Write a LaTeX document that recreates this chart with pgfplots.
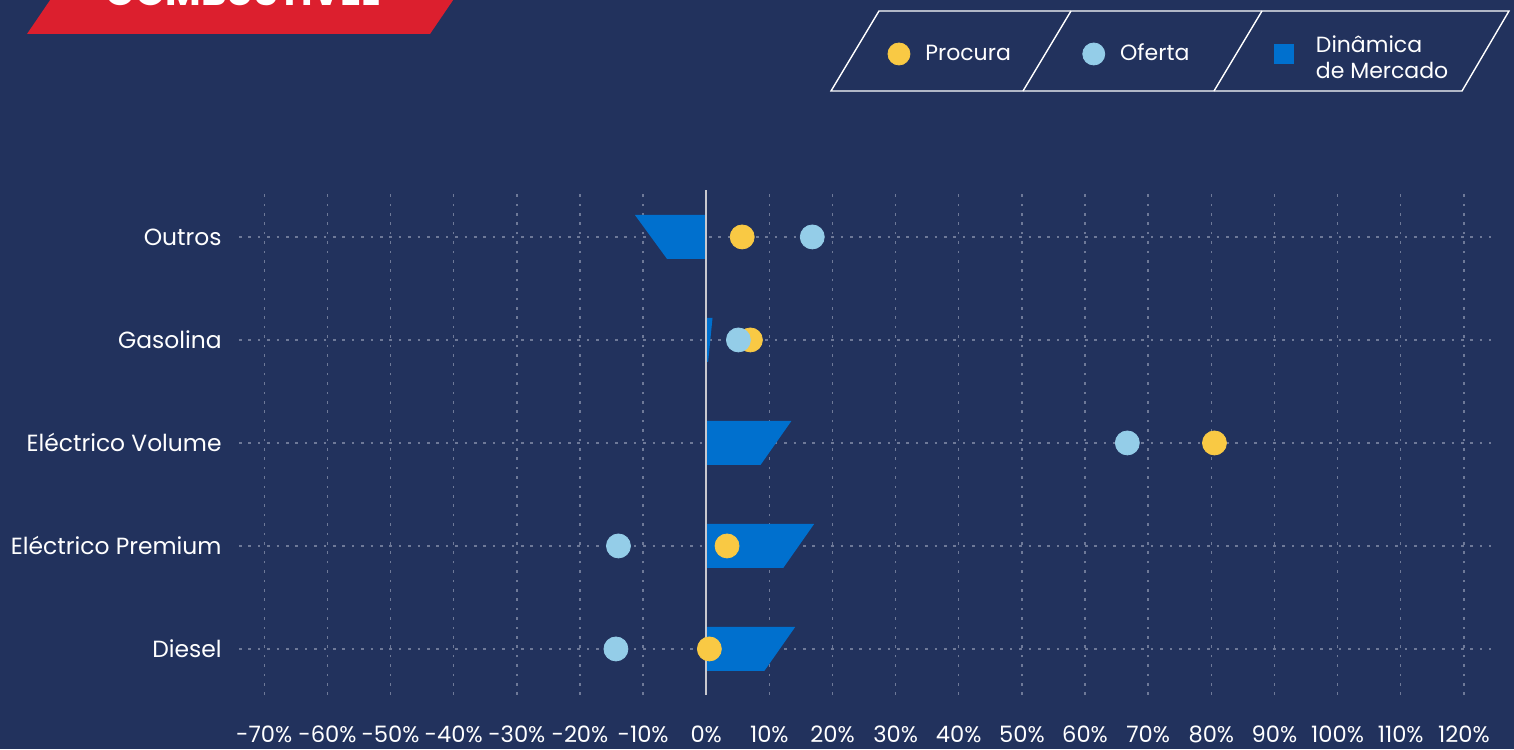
\documentclass[border=0pt]{standalone}
\usepackage{fontspec}
\setmainfont{Poppins}
\usepackage{pgfplots}
\pgfplotsset{compat=1.18}

\definecolor{bg}{RGB}{34,50,93}
\definecolor{barblue}{RGB}{0,112,206}
\definecolor{procura}{RGB}{249,201,68}
\definecolor{oferta}{RGB}{148,205,232}
\definecolor{gridc}{RGB}{110,121,152}
\definecolor{zeroc}{RGB}{200,200,206}
\definecolor{bannerred}{RGB}{220,31,46}

\begin{document}
\begin{tikzpicture}
% background
\fill[bg] (0,0) rectangle (757pt,374.5pt);

% title banner (cut at the top edge)
\fill[bannerred] (13.5pt,357.5pt) -- (215pt,357.5pt) -- (231pt,381pt) -- (29.5pt,381pt) -- cycle;
\node[anchor=base, text=white, font=\bfseries\fontsize{19.4}{22}\selectfont, inner sep=0pt]
  at (121.5pt,371.5pt) {COMBUSTÍVEL};

% legend frames
\draw[white, line width=0.7pt] (415.5pt,329pt) -- (439.5pt,369pt) -- (754.5pt,369pt) -- (731pt,329pt) -- cycle;
\draw[white, line width=0.7pt] (511.5pt,329pt) -- (535.5pt,369pt);
\draw[white, line width=0.7pt] (607pt,329pt) -- (631pt,369pt);

\begin{axis}[
  scale only axis,
  width=626pt, height=252.5pt,
  at={(119.5pt,27pt)}, anchor=south west,
  xmin=-74, xmax=124.3, ymin=-0.447, ymax=4.456,
  axis line style={draw=none},
  tick style={draw=none},
  xtick={-70,-60,...,120},
  xticklabels={-70\%,-60\%,-50\%,-40\%,-30\%,-20\%,-10\%,0\%,10\%,20\%,30\%,40\%,50\%,60\%,70\%,80\%,90\%,100\%,110\%,120\%},
  xticklabel style={anchor=base, yshift=-24pt, inner sep=0pt, text=white, font=\fontsize{11.3}{13}\selectfont},
  ytick={0,1,2,3,4},
  yticklabels={Diesel,Eléctrico Premium,Eléctrico Volume,Gasolina,Outros},
  yticklabel style={anchor=base east, inner sep=0pt, xshift=-8.5pt, yshift=-4.1pt, text=white, font=\fontsize{11.7}{13}\selectfont},
  xmajorgrids, ymajorgrids,
  grid style={gridc, line width=0.7pt, dash pattern=on 1.3pt off 3.4pt},
  legend columns=3,
  legend cell align=left,
  legend style={at={(0.518,1.2693)}, anchor=west, draw=none, fill=none,
    column sep=0pt, row sep=0pt, inner sep=0pt, outer sep=0pt,
    nodes={inner sep=0pt, text=white, font=\fontsize{11}{13.5}\selectfont}},
]
% legend entries
\addlegendimage{legend image code/.code={\fill[procura] (5.5pt,0pt) circle (5.5pt);}}
\addlegendentry{\hspace{7.5pt}\makebox[78.5pt][l]{Procura}}
\addlegendimage{legend image code/.code={\fill[oferta] (5.5pt,0pt) circle (5.5pt);}}
\addlegendentry{\hspace{7.5pt}\makebox[77pt][l]{Oferta}}
\addlegendimage{legend image code/.code={\fill[barblue] (0pt,-4.75pt) rectangle (9.5pt,4.75pt);}}
\addlegendentry{\hspace{11pt}\raisebox{3.3pt}{\begin{tabular}[c]{@{}l@{}}Dinâmica\\[-0.5pt]de Mercado\end{tabular}}}

% market dynamics bars (slanted ends: value at top edge, value at bottom edge)
\addplot[forget plot, fill=barblue, draw=none] coordinates {(0,3.786) (-6.2,3.786) (-11.3,4.214) (0,4.214)};
\addplot[forget plot, fill=barblue, draw=none] coordinates {(0,2.786) (0.3,2.786) (1.0,3.214) (0,3.214)};
\addplot[forget plot, fill=barblue, draw=none] coordinates {(0,1.786) (8.6,1.786) (13.5,2.214) (0,2.214)};
\addplot[forget plot, fill=barblue, draw=none] coordinates {(0,0.786) (12.2,0.786) (17.1,1.214) (0,1.214)};
\addplot[forget plot, fill=barblue, draw=none] coordinates {(0,-0.214) (9.2,-0.214) (14.1,0.214) (0,0.214)};

% zero line
\addplot[forget plot, zeroc, line width=1pt] coordinates {(0,-0.447) (0,4.456)};

% Procura
\addplot[forget plot, only marks, mark=*, mark size=6pt, procura, mark options={draw=none, fill=procura}]
  coordinates {(5.7,4) (7.0,3) (80.5,2) (3.3,1) (0.5,0)};
% Oferta
\addplot[forget plot, only marks, mark=*, mark size=6pt, oferta, mark options={draw=none, fill=oferta}]
  coordinates {(16.8,4) (5.1,3) (66.7,2) (-13.9,1) (-14.3,0)};
\end{axis}

\pgfresetboundingbox
\path[use as bounding box] (0,0) rectangle (757pt,374.5pt);
\end{tikzpicture}
\end{document}
